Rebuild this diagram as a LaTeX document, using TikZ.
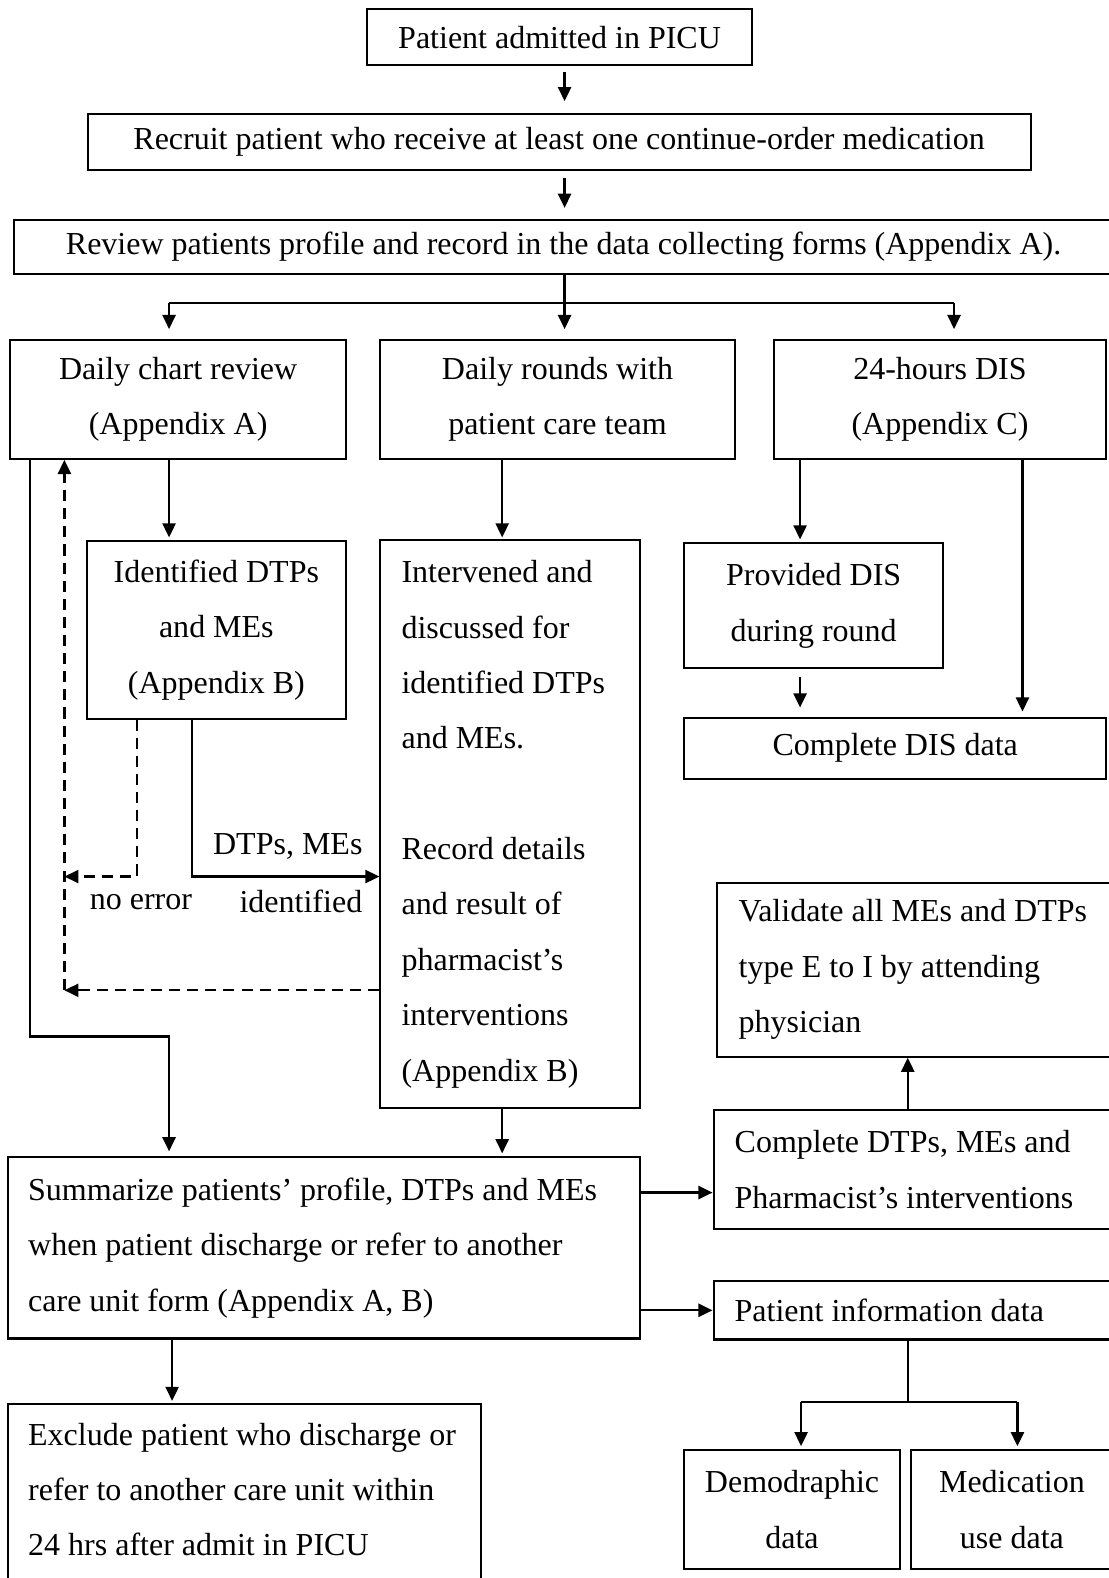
\documentclass[tikz,border=0pt]{standalone}
\usepackage{fontspec}
\setmainfont{Liberation Serif}
\usetikzlibrary{arrows.meta}

\tikzset{
  box/.style={draw, line width=2pt, inner sep=0pt, align=center},
  lbox/.style={box, align=flush left, inner xsep=20pt},
  ln/.style={line width=2.2pt},
  arr/.style={ln, -{Triangle[length=14pt,width=13pt]}},
  dsh/.style={line width=2.2pt, dash pattern=on 11pt off 7pt},
  darr/.style={dsh, -{Triangle[length=14pt,width=13pt]}},
  lbl/.style={inner sep=0pt}
}

\begin{document}
\begin{tikzpicture}[x=1pt, y=-1pt, font=\fontsize{31.8}{55}\selectfont]
\useasboundingbox (0,0) rectangle (1101,1568);
\node[box, minimum width=382pt, minimum height=56pt] (admit) at (556,37) {Patient admitted in PICU};
\node[box, minimum width=937pt, minimum height=55pt] (recruit) at (555.5,141) {Recruit patient who receive at least one continue-order medication};
\node[box, minimum width=1092pt, minimum height=54pt] (review) at (560,245.5) {Review patients profile and record in the data collecting forms (Appendix A).};
\draw[arr, shorten <=6pt, shorten >=12pt] (admit.south -| 561,0) -- (recruit.north -| 561,0);
\draw[arr, shorten <=7pt, shorten >=11pt] (recruit.south -| 561,0) -- (review.north -| 561,0);
%------------------
\node[box, minimum width=334pt, minimum height=118pt] (chart) at (177,397) {Daily chart review\\(Appendix A)};
\node[box, minimum width=352pt, minimum height=118pt] (rounds) at (554,397) {Daily rounds with\\patient care team};
\node[box, minimum width=330pt, minimum height=118pt] (dis) at (934,397) {24-hours DIS\\(Appendix C)};
\coordinate (split) at (561,301);
\coordinate (sL) at (168,301);
\coordinate (sR) at (948,301);
\draw[ln] (sL) -- (sR);
\draw[arr, shorten >=10pt] (review.south -| split) -- (rounds.north -| split);
\foreach \c/\n in {sL/chart, sR/dis}
  \draw[arr, shorten >=10pt] (\c) -- (\n.north -| \c);
%------------------
\node[box, minimum width=258pt, minimum height=176pt] (ident) at (215,626) {Identified DTPs\\and MEs\\(Appendix B)};
\node[lbox, inner xsep=21pt, text width=216pt, minimum height=564pt] (interv) at (507,819)
  {Intervened and\\discussed for\\identified DTPs\\and MEs.\\[55pt]Record details\\and result of\\pharmacist's\\interventions\\(Appendix B)};
\node[box, minimum width=257pt, minimum height=124pt] (during) at (808.5,602) {Provided DIS\\during round};
\node[box, minimum width=419pt, minimum height=61pt] (disdata) at (889.5,743.5) {Complete DIS data};
\draw[arr, shorten >=3pt] (chart.south -| 168,0) -- (ident.north -| 168,0);
\draw[arr, shorten >=2pt] (rounds.south -| 499,0) -- (interv.north -| 499,0);
\draw[arr, shorten >=3pt] (dis.south -| 795,0) -- (during.north -| 795,0);
\draw[arr, shorten >=5pt] (dis.south -| 1016,0) -- (disdata.north -| 1016,0);
\draw[arr, shorten <=8pt, shorten >=9pt] (during.south -| 795,0) -- (disdata.north -| 795,0);
%------------------
\node[lbl] (found) at (286,841) {DTPs, MEs};
\node[lbl] (found2) at (299,896) {identified};
\node[lbl] (noerr) at (140,896) {no error};
\coordinate (nback) at (64,871);
\coordinate (ret) at (64,984);
\draw[arr] (ident.south -| 191,0) |- (interv.west |- 0,871);
\draw[darr] (ident.south -| 136,0) |- (nback);
\draw[darr] (interv.west |- ret) -- (ret);
\draw[darr] (ret) -- (chart.south -| ret);
%------------------
\node[lbox, text width=588pt, minimum height=180pt] (summ) at (322,1240)
  {Summarize patients' profile, DTPs and MEs\\when patient discharge or refer to another\\care unit form (Appendix A, B)};
\node[lbox, text width=430pt, minimum height=225pt] (excl) at (243,1507.5)
  {Exclude patient who discharge or\\refer to another care unit within\\24 hrs after admit in PICU\\~};
\coordinate (bend) at (168,1030);
\draw[arr, shorten >=5pt] (chart.south -| 30,0) |- (bend) -- (summ.north -| bend);
\draw[arr, shorten >=3pt] (interv.south -| 499,0) -- (summ.north -| 499,0);
\draw[arr, shorten >=2pt] (summ.south -| 171,0) -- (excl.north -| 171,0);
%------------------
\node[lbox, inner xsep=22pt, text width=364pt, minimum height=173pt] (valid) at (916,963.5)
  {Validate all MEs and DTPs\\type E to I by attending\\physician};
\node[lbox, inner xsep=21pt, text width=369pt, minimum height=118pt] (cdtp) at (914.5,1162)
  {Complete DTPs, MEs and\\Pharmacist's interventions};
\node[lbox, inner xsep=21pt, text width=369pt, minimum height=58pt] (pinfo) at (914.5,1302)
  {Patient information data};
\node[box, minimum width=214pt, minimum height=118pt] (demo) at (787,1500) {Demodraphic\\data};
\node[box, minimum width=201pt, minimum height=118pt] (meduse) at (1005.5,1500) {Medication\\use data};
\draw[arr] (summ.east |- 0,1185) -- (cdtp.west |- 0,1185);
\draw[arr] (summ.east |- pinfo.west) -- (pinfo.west);
\draw[arr] (cdtp.north -| 902,0) -- (valid.south -| 902,0);
\coordinate (sp2) at (902,1393);
\draw[ln] (pinfo.south -| sp2) -- (sp2);
\draw[ln] (796,1393) -- (1011,1393);
\foreach \x/\n in {796/demo, 1011/meduse}
  \draw[arr, shorten >=3pt] (\x,1393) -- (\n.north -| \x,0);
\end{tikzpicture}
\end{document}
